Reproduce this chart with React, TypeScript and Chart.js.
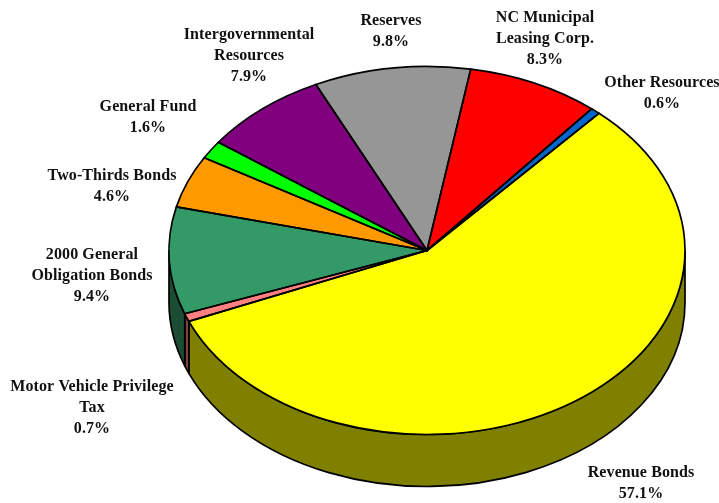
import React, { useEffect, useRef } from "react";
import { Chart, registerables } from "chart.js";

Chart.register(...registerables);

const categories = [
  "Revenue Bonds",
  "Motor Vehicle Privilege\nTax",
  "2000 General\nObligation Bonds",
  "Two-Thirds Bonds",
  "General Fund",
  "Intergovernmental\nResources",
  "Reserves",
  "NC Municipal\nLeasing Corp.",
  "Other Resources",
];
const shares = [57.1, 0.7, 9.4, 4.6, 1.6, 7.9, 9.8, 8.3, 0.6];
const topColors = ["#FFFF00", "#FF8080", "#339966", "#FF9900", "#00FF00", "#800080", "#969696", "#FF0000", "#0066CC"];
const wallColors = ["#808000", "#804040", "#1A4D33", "#804D00", "#008000", "#400040", "#4B4B4B", "#800000", "#003366"];

// label anchor: centre x, first baseline y
const labelAnchors: [number, number][] = [
  [641, 477],
  [92, 391],
  [92, 259],
  [112, 180],
  [148, 111],
  [249, 39],
  [391, 25],
  [545, 22],
  [662, 87],
];

const X_STRETCH = 258 / 184;
const DEPTH = 52;
const LINE_HEIGHT = 21;
const EDGE = 1.7;

const pie3d = {
  id: "pie3d",
  beforeDatasetsDraw(chart: any) {
    const ctx = chart.ctx;
    const arcs = chart.getDatasetMeta(0).data;
    ctx.save();
    ctx.lineWidth = EDGE;
    ctx.strokeStyle = "#000";
    ctx.lineJoin = "round";
    arcs.forEach((arc: any, i: number) => {
      const a = Math.max(arc.startAngle, 0);
      const b = Math.min(arc.endAngle, Math.PI);
      if (b <= a) return;
      const rx = arc.outerRadius * X_STRETCH;
      const ry = arc.outerRadius;
      ctx.beginPath();
      ctx.ellipse(arc.x, arc.y, rx, ry, 0, a, b);
      ctx.ellipse(arc.x, arc.y + DEPTH, rx, ry, 0, b, a, true);
      ctx.closePath();
      ctx.fillStyle = wallColors[i];
      ctx.fill();
      ctx.stroke();
    });
    ctx.restore();
    const cx = arcs[0].x;
    ctx.save();
    ctx.translate(cx, 0);
    ctx.scale(X_STRETCH, 1);
    ctx.translate(-cx, 0);
  },
  afterDatasetsDraw(chart: any) {
    const ctx = chart.ctx;
    ctx.restore();
    const arcs = chart.getDatasetMeta(0).data;
    ctx.save();
    ctx.lineWidth = EDGE;
    ctx.strokeStyle = "#000";
    ctx.lineJoin = "round";
    arcs.forEach((arc: any) => {
      ctx.beginPath();
      ctx.moveTo(arc.x, arc.y);
      ctx.ellipse(arc.x, arc.y, arc.outerRadius * X_STRETCH, arc.outerRadius, 0, arc.startAngle, arc.endAngle);
      ctx.closePath();
      ctx.stroke();
    });
    ctx.restore();
  },
  afterDraw(chart: any) {
    const ctx = chart.ctx;
    ctx.save();
    ctx.font = 'bold 16px "Liberation Serif"';
    ctx.letterSpacing = "0.1px";
    ctx.fillStyle = "#111";
    ctx.textAlign = "center";
    ctx.textBaseline = "alphabetic";
    categories.forEach((name, i) => {
      const lines = [...name.split("\n"), `${shares[i].toFixed(1)}%`];
      const [x, y] = labelAnchors[i];
      lines.forEach((line, j) => ctx.fillText(line, x, y + j * LINE_HEIGHT));
    });
    ctx.restore();
  },
};

export default function App() {
  const ref = useRef<HTMLCanvasElement>(null);
  useEffect(() => {
    const chart = new Chart(ref.current!, {
      type: "pie",
      data: {
        labels: categories,
        datasets: [{ data: shares, backgroundColor: topColors, borderWidth: 0 }],
      },
      options: {
        responsive: false,
        animation: false,
        rotation: 41.8,
        layout: { padding: { left: 243, right: 108, top: 66.5, bottom: 68.5 } },
        plugins: { legend: { display: false }, tooltip: { enabled: false } },
      },
      plugins: [pie3d],
    } as any);
    return () => chart.destroy();
  }, []);
  return (
    <div style={{ position: "absolute", left: 0, top: 0, width: 719, height: 503, background: "#fff" }}>
      <canvas ref={ref} width={719} height={503} style={{ display: "block" }} />
    </div>
  );
}
